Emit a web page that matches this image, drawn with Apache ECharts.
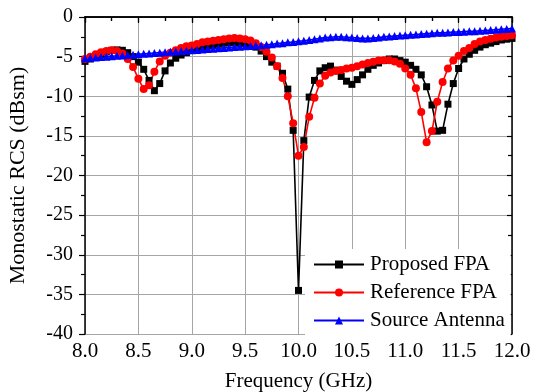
<!DOCTYPE html>
<html>
<head>
<meta charset="utf-8">
<script src="https://cdn.jsdelivr.net/npm/echarts@6/dist/echarts.min.js"></script>
<style>
  html, body {margin: 0; padding: 0; background: #fff;}
  #chart {width: 533px; height: 392px;}
</style>
</head>
<body>
<div id="chart"></div>
<script>
// frequency points (GHz)
const freq = [
  8.00, 8.05, 8.10, 8.15, 8.20, 8.25, 8.30, 8.35, 8.40, 8.45,
  8.50, 8.55, 8.60, 8.65, 8.70, 8.75, 8.80, 8.85, 8.90, 8.95,
  9.00, 9.05, 9.10, 9.15, 9.20, 9.25, 9.30, 9.35, 9.40, 9.45,
  9.50, 9.55, 9.60, 9.65, 9.70, 9.75, 9.80, 9.85, 9.90, 9.95,
  10.00, 10.05, 10.10, 10.15, 10.20, 10.25, 10.30, 10.35, 10.40, 10.45,
  10.50, 10.55, 10.60, 10.65, 10.70, 10.75, 10.80, 10.85, 10.90, 10.95,
  11.00, 11.05, 11.10, 11.15, 11.20, 11.25, 11.30, 11.35, 11.40, 11.45,
  11.50, 11.55, 11.60, 11.65, 11.70, 11.75, 11.80, 11.85, 11.90, 11.95,
  12.00
];

const proposedFPA = [
  -5.6, -5.3, -5.0, -4.7, -4.4, -4.2, -4.15, -4.2, -4.5, -5.0,
  -5.7, -6.6, -8.0, -9.3, -8.4, -6.8, -5.8, -5.2, -4.8, -4.5,
  -4.2, -4.0, -3.8, -3.6, -3.5, -3.4, -3.3, -3.25, -3.2, -3.25,
  -3.3, -3.5, -3.8, -4.3, -5.0, -5.7, -6.2, -7.1, -9.1, -14.3,
  -34.5, -15.6, -10.1, -8.0, -6.8, -6.4, -6.2, -6.7, -7.5, -8.1,
  -8.5, -7.9, -7.3, -6.6, -6.1, -5.8, -5.5, -5.3, -5.3, -5.5,
  -5.7, -6.1, -6.6, -7.3, -8.8, -11.1, -14.4, -14.3, -11.0, -8.4,
  -6.5, -5.3, -4.7, -4.2, -3.8, -3.5, -3.3, -3.1, -2.9, -2.8,
  -2.7
];

const referenceFPA = [
  -5.3, -5.0, -4.7, -4.45, -4.3, -4.2, -4.3, -4.6, -5.3, -6.3,
  -7.8, -9.1, -8.6, -6.9, -5.6, -4.9, -4.5, -4.2, -3.9, -3.7,
  -3.6, -3.4, -3.2, -3.1, -3.0, -2.9, -2.8, -2.7, -2.65, -2.7,
  -2.8, -2.95, -3.3, -3.8, -4.4, -5.1, -6.2, -7.7, -10.0, -13.4,
  -17.5, -16.4, -12.6, -10.2, -8.4, -7.4, -7.0, -6.8, -6.7, -6.5,
  -6.4, -6.2, -6.0, -5.8, -5.65, -5.5, -5.45, -5.45, -5.6, -5.9,
  -6.5, -7.3, -9.0, -12.0, -15.8, -14.4, -10.7, -8.2, -6.5, -5.5,
  -4.9, -4.3, -3.9, -3.4, -3.1, -2.9, -2.75, -2.6, -2.5, -2.4,
  -2.3
];

const sourceAntenna = [
  -5.2, -5.15, -5.1, -5.05, -5.0, -4.95, -4.9, -4.85, -4.8, -4.75,
  -4.7, -4.65, -4.6, -4.55, -4.5, -4.45, -4.4, -4.35, -4.3, -4.25,
  -4.2, -4.15, -4.1, -4.05, -4.0, -3.95, -3.9, -3.85, -3.8, -3.75,
  -3.7, -3.65, -3.6, -3.55, -3.5, -3.45, -3.35, -3.3, -3.2, -3.15,
  -3.05, -3.0, -2.9, -2.8, -2.7, -2.6, -2.55, -2.5, -2.5, -2.55,
  -2.6, -2.65, -2.7, -2.7, -2.65, -2.6, -2.5, -2.45, -2.4, -2.35,
  -2.3, -2.25, -2.2, -2.15, -2.1, -2.05, -2.0, -2.0, -1.95, -1.9,
  -1.9, -1.85, -1.8, -1.8, -1.75, -1.7, -1.65, -1.6, -1.55, -1.5,
  -1.45
];

const xTicks = ['8.0', '8.5', '9.0', '9.5', '10.0', '10.5', '11.0', '11.5', '12.0'];
const yTicks = [0, -5, -10, -15, -20, -25, -30, -35, -40];

const font = 'Liberation Serif, Times New Roman, serif';
const pairs = arr => freq.map((f, i) => [f, arr[i]]);

const myChart = echarts.init(document.getElementById('chart'));

const axisLine = {show: true, lineStyle: {color: '#000', width: 1.5}};
const gridLine = {show: true, lineStyle: {color: '#a6a6a6', width: 1}};

myChart.setOption({
  animation: false,
  textStyle: {fontFamily: font},
  grid: {left: 85, right: 21, top: 17, bottom: 58, outerBoundsMode: 'none'},
  xAxis: [{
    type: 'value',
    min: 8, max: 12, interval: 0.5,
    name: 'Frequency (GHz)',
    nameLocation: 'middle',
    nameGap: 37,
    nameTextStyle: {fontFamily: font, fontSize: 21, color: '#000'},
    axisLine: axisLine,
    axisTick: {show: true, length: 6, lineStyle: {color: '#000', width: 1.2}},
    minorTick: {show: true, splitNumber: 2, length: 4, lineStyle: {color: '#000', width: 1.2}},
    axisLabel: {
      fontFamily: font, fontSize: 21, color: '#000', margin: 7,
      formatter: (v) => xTicks[Math.round((v - 8) / 0.5)]
    },
    splitLine: gridLine
  }, {
    type: 'value',
    position: 'top',
    min: 8, max: 12, interval: 0.5,
    axisLine: axisLine,
    axisTick: {show: true, inside: true, length: 5, lineStyle: {color: '#000', width: 1.2}},
    minorTick: {show: true, splitNumber: 2, length: 4, lineStyle: {color: '#000', width: 1.2}},
    axisLabel: {show: false},
    splitLine: {show: false}
  }],
  yAxis: [{
    type: 'value',
    min: -40, max: 0, interval: 5,
    name: 'Monostatic RCS (dBsm)',
    nameLocation: 'middle',
    nameGap: 56,
    nameTextStyle: {fontFamily: font, fontSize: 22, color: '#000'},
    axisLine: axisLine,
    axisTick: {show: true, length: 6, lineStyle: {color: '#000', width: 1.2}},
    minorTick: {show: true, splitNumber: 2, length: 4, lineStyle: {color: '#000', width: 1.2}},
    axisLabel: {
      fontFamily: font, fontSize: 20, color: '#000', margin: 12,
      formatter: (v) => String(yTicks[Math.round(-v / 5)])
    },
    splitLine: gridLine
  }, {
    type: 'value',
    position: 'right',
    min: -40, max: 0, interval: 5,
    axisLine: axisLine,
    axisTick: {show: true, inside: true, length: 5, lineStyle: {color: '#000', width: 1.2}},
    minorTick: {show: true, splitNumber: 2, length: 4, lineStyle: {color: '#000', width: 1.2}},
    axisLabel: {show: false},
    splitLine: {show: false}
  }],
  legend: {
    orient: 'vertical',
    left: 305,
    top: 249,
    padding: [5, 6, 5, 8],
    backgroundColor: '#fff',
    itemWidth: 50,
    itemHeight: 10,
    itemGap: 7,
    textStyle: {fontFamily: font, fontSize: 21, color: '#000', lineHeight: 20, padding: [0, 0, 0, 1]},
    data: ['Proposed FPA', 'Reference FPA', 'Source Antenna']
  },
  series: [{
    name: 'Proposed FPA',
    type: 'line',
    data: pairs(proposedFPA),
    symbol: 'rect',
    symbolSize: 7,
    color: '#000',
    lineStyle: {width: 1.6, color: '#000'}
  }, {
    name: 'Reference FPA',
    type: 'line',
    data: pairs(referenceFPA),
    symbol: 'circle',
    symbolSize: 8,
    color: '#ff0000',
    lineStyle: {width: 1.6, color: '#ff0000'}
  }, {
    name: 'Source Antenna',
    type: 'line',
    data: pairs(sourceAntenna),
    symbol: 'triangle',
    symbolSize: 8,
    color: '#0000ff',
    lineStyle: {width: 1.6, color: '#0000ff'}
  }]
});
</script>
</body>
</html>
